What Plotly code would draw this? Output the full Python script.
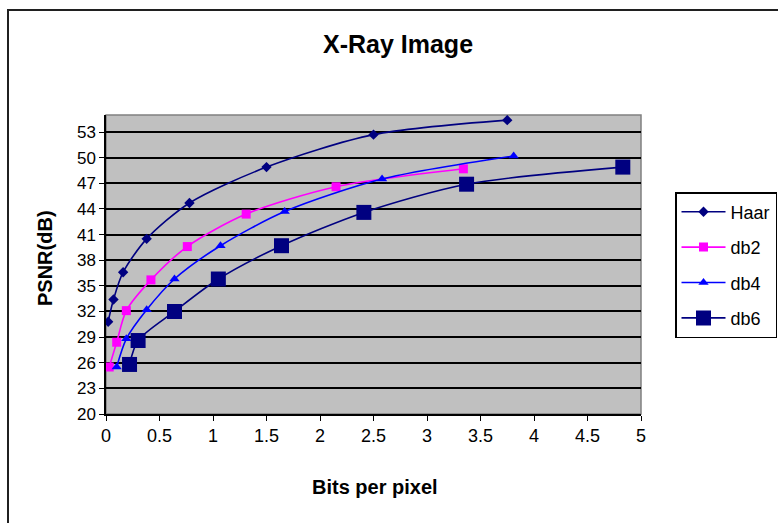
import plotly.graph_objects as go

# PSNR versus bit rate for four wavelet filters on an X-ray image
haar_bpp = [0.02, 0.07, 0.16, 0.38, 0.78, 1.50, 2.50, 3.75]
haar_psnr = [30.8, 33.4, 36.6, 40.5, 44.7, 48.9, 52.7, 54.4]

db2_bpp = [0.03, 0.10, 0.19, 0.42, 0.76, 1.31, 2.15, 3.34]
db2_psnr = [25.5, 28.4, 32.1, 35.7, 39.6, 43.4, 46.6, 48.7]

db4_bpp = [0.10, 0.19, 0.38, 0.64, 1.07, 1.67, 2.58, 3.81]
db4_psnr = [25.5, 28.8, 32.2, 35.8, 39.7, 43.7, 47.5, 50.2]

db6_bpp = [0.22, 0.30, 0.64, 1.05, 1.64, 2.41, 3.37, 4.83]
db6_psnr = [25.8, 28.6, 32.0, 35.8, 39.7, 43.6, 46.9, 48.9]

x_ticks = [0, 0.5, 1, 1.5, 2, 2.5, 3, 3.5, 4, 4.5, 5]
y_ticks = [20, 23, 26, 29, 32, 35, 38, 41, 44, 47, 50, 53]

FONT = "Liberation Sans, Arial, sans-serif"

series = [
    ("Haar", haar_bpp, haar_psnr, "#000080", "diamond", 8),
    ("db2", db2_bpp, db2_psnr, "#FF00FF", "square", 9),
    ("db4", db4_bpp, db4_psnr, "#0000FF", "triangle-up", 9),
    ("db6", db6_bpp, db6_psnr, "#000080", "square", 15),
]

fig = go.Figure()
for name, xs, ys, color, symbol, size in series:
    fig.add_trace(go.Scatter(
        x=xs, y=ys, name=name, legendgroup=name,
        mode="lines+markers",
        line=dict(color=color, width=1.6, shape="spline", smoothing=0.8),
        marker=dict(color=color, symbol=symbol, size=size, line=dict(width=0)),
    ))

W, H = 778, 523
L, R, T, B = 106, 641, 115, 414  # plot area edges in pixels


def px_x(px):
    return (px - L) / (R - L)


def px_y(py):
    return (B - py) / (B - T)


axis_common = dict(
    showline=True, linecolor="#000000", linewidth=1.5,
    ticks="outside", ticklen=5, tickcolor="#000000", tickwidth=1.2,
    zeroline=False, mirror=False,
)

fig.update_layout(
    width=W, height=H,
    margin=dict(l=L, r=W - R, t=T, b=H - B, autoexpand=False),
    paper_bgcolor="#FFFFFF",
    plot_bgcolor="#C0C0C0",
    font=dict(family=FONT, color="#000000"),
    title=dict(
        text="<b>X-Ray Image</b>", xref="container", yref="container",
        x=398 / W, y=1 - 44 / H, xanchor="center", yanchor="middle",
        font=dict(size=25, family=FONT, color="#000000"),
    ),
    xaxis=dict(
        range=[0, 5], tickvals=x_ticks, ticktext=[f"{v:g}" for v in x_ticks],
        showgrid=False, tickfont=dict(size=18, family=FONT),
        **axis_common,
    ),
    yaxis=dict(
        range=[20, 55], tickvals=y_ticks, ticktext=[str(v) for v in y_ticks],
        showgrid=True, gridcolor="#000000", gridwidth=1.5,
        tickfont=dict(size=17, family=FONT),
        **axis_common,
    ),
    legend=dict(
        x=px_x(675), y=px_y(192), xanchor="left", yanchor="top",
        xref="paper", yref="paper",
        bgcolor="#FFFFFF", bordercolor="#000000", borderwidth=1.5,
        font=dict(size=18, family=FONT, color="#000000"),
        tracegroupgap=9, itemwidth=44,
    ),
    showlegend=True,
)

# plot area frame (top and right edges) and the outer chart border
fig.add_shape(type="rect", xref="paper", yref="paper", x0=0, x1=1, y0=0, y1=1,
              line=dict(color="#808080", width=1.5), layer="below")
fig.add_shape(type="rect", xref="paper", yref="paper",
              x0=px_x(8), x1=px_x(800), y0=px_y(545), y1=px_y(10),
              line=dict(color="#202020", width=2), layer="above")

# axis titles
fig.add_annotation(text="<b>Bits per pixel</b>", xref="paper", yref="paper",
                   x=px_x(375), y=px_y(487), xanchor="center", yanchor="middle",
                   showarrow=False, font=dict(size=20, family=FONT, color="#000000"))
fig.add_annotation(text="<b>PSNR(dB)</b>", xref="paper", yref="paper",
                   x=px_x(45), y=px_y(258), xanchor="center", yanchor="middle",
                   textangle=-90, showarrow=False,
                   font=dict(size=20, family=FONT, color="#000000"))

fig.write_html("out.html")
